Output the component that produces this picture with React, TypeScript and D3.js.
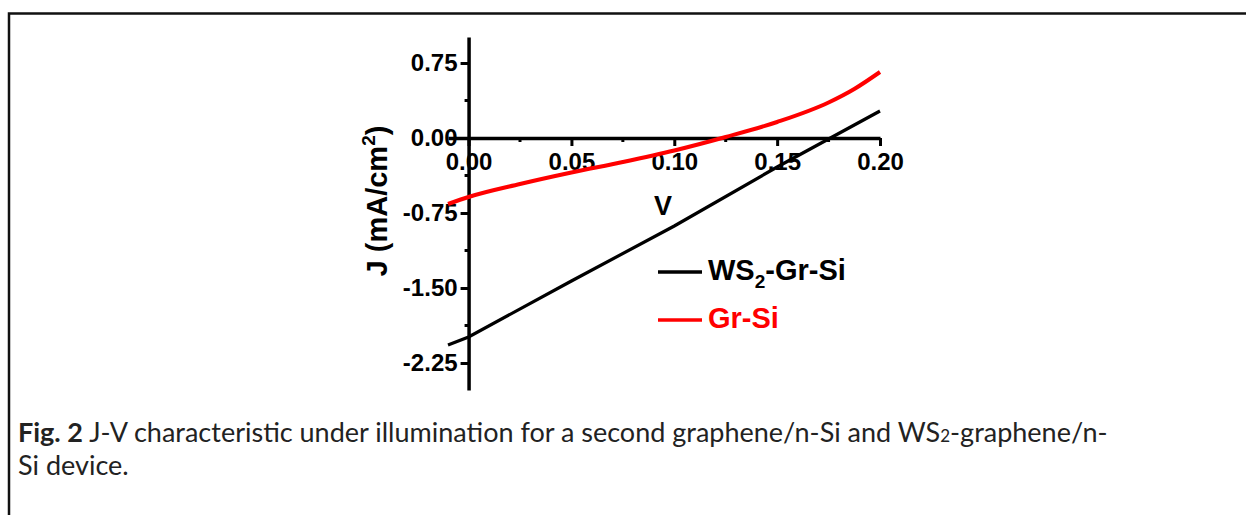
import React, { useRef, useEffect } from "react";
import * as d3 from "d3";

// J-V data (V in volts, J in mA/cm^2)
const voltsWs2 = [-0.01, 0, 0.05, 0.1, 0.15, 0.2];
const currentWs2 = [-2.07, -1.99, -1.43, -0.88, -0.29, 0.27];
const voltsGr = [-0.01, 0, 0.025, 0.05, 0.075, 0.1, 0.125, 0.15, 0.175, 0.1875, 0.2];
const currentGr = [-0.66, -0.59, -0.46, -0.345, -0.24, -0.125, 0.01, 0.16, 0.355, 0.49, 0.66];

const xTicks = [0, 0.05, 0.1, 0.15, 0.2];
const xMinorTicks = [0.025, 0.075, 0.125, 0.175];
const yTicks = [0.75, 0, -0.75, -1.5, -2.25];
const yMinorTicks = [0.375, -0.375, -1.125, -1.875];

const W = 1246;
const H = 515;
const FONT = "'Liberation Sans', Arial, sans-serif";

const x = d3.scaleLinear().domain([-0.01, 0.2]).range([448, 880]);
const y = d3.scaleLinear().domain([-2.52, 1.01]).range([390, 37]);

const App = () => {
  const xAxisRef = useRef<SVGGElement>(null);
  const yAxisRef = useRef<SVGGElement>(null);

  useEffect(() => {
    const fmt = (d: any) => (+d).toFixed(2);

    const gx = d3.select(xAxisRef.current);
    gx.selectAll("*").remove();
    gx.call(
      d3.axisBottom(x).tickValues(xTicks).tickSize(8).tickSizeOuter(0).tickPadding(7).tickFormat(fmt)
    );
    gx.selectAll(".minor")
      .data(xMinorTicks)
      .join("line")
      .attr("class", "minor")
      .attr("x1", (d) => x(d))
      .attr("x2", (d) => x(d))
      .attr("y1", 0)
      .attr("y2", 4);

    const gy = d3.select(yAxisRef.current);
    gy.selectAll("*").remove();
    gy.call(
      d3.axisLeft(y).tickValues(yTicks).tickSize(8).tickSizeOuter(0).tickPadding(3).tickFormat(fmt)
    );
    gy.selectAll(".minor")
      .data(yMinorTicks)
      .join("line")
      .attr("class", "minor")
      .attr("x1", 0)
      .attr("x2", -4)
      .attr("y1", (d) => y(d))
      .attr("y2", (d) => y(d));

    [gx, gy].forEach((g) => {
      g.select(".domain").attr("stroke", "#000").attr("stroke-width", 3.5);
      g.selectAll("line").attr("stroke", "#000").attr("stroke-width", 3);
      g.selectAll("text")
        .attr("fill", "#000")
        .style("font-family", FONT)
        .style("font-weight", "bold")
        .style("font-size", "24px");
    });
  }, []);

  const lineWs2 = d3
    .line<number>()
    .x((d, i) => x(voltsWs2[i]))
    .y((d) => y(d));
  const lineGr = d3
    .line<number>()
    .x((d, i) => x(voltsGr[i]))
    .y((d) => y(d))
    .curve(d3.curveMonotoneX);

  return (
    <svg
      width={W}
      height={H}
      style={{ position: "absolute", left: 0, top: 0, background: "#fff" }}
    >
      {/* frame */}
      <path d={`M9,${H} V13.5 H${W}`} fill="none" stroke="#111" strokeWidth={2.5} />

      <g ref={xAxisRef} transform={`translate(0,${y(0)})`} />
      <g ref={yAxisRef} transform={`translate(${x(0)},0)`} />

      <path d={lineWs2(currentWs2) || ""} fill="none" stroke="#000" strokeWidth={3.2} />
      <path d={lineGr(currentGr) || ""} fill="none" stroke="#ff0000" strokeWidth={4} />

      {/* axis titles */}
      <text x={663} y={215} textAnchor="middle" fontFamily={FONT} fontWeight="bold" fontSize={27}>
        V
      </text>
      <text
        transform="translate(387,201) rotate(-90)"
        textAnchor="middle"
        fontFamily={FONT}
        fontWeight="bold"
        fontSize={29}
      >
        J (mA/cm
        <tspan dy={-12} fontSize={19}>2</tspan>
        <tspan dy={12}>)</tspan>
      </text>

      {/* legend */}
      <g fontFamily={FONT} fontWeight="bold" fontSize={29}>
        <line x1={658} x2={702} y1={272} y2={272} stroke="#000" strokeWidth={3.5} />
        <text x={708} y={280} fill="#000">
          WS<tspan dy={8} fontSize={19}>2</tspan>
          <tspan dy={-8}>-Gr-Si</tspan>
        </text>
        <line x1={658} x2={702} y1={320} y2={320} stroke="#ff0000" strokeWidth={3.5} />
        <text x={708} y={328} fill="#ff0000">
          Gr-Si
        </text>
      </g>

      {/* caption */}
      <g fontFamily="Lato, 'Open Sans', sans-serif" fontSize={27} fill="#222">
        <text x={18} y={442}>
          <tspan fontWeight="bold">Fig. 2</tspan> J-V characteristic under illumination for a second
          graphene/n-Si and WS<tspan fontSize={17}>2</tspan>-graphene/n-
        </text>
        <text x={18} y={475}>
          Si device.
        </text>
      </g>
    </svg>
  );
};

export default App;
